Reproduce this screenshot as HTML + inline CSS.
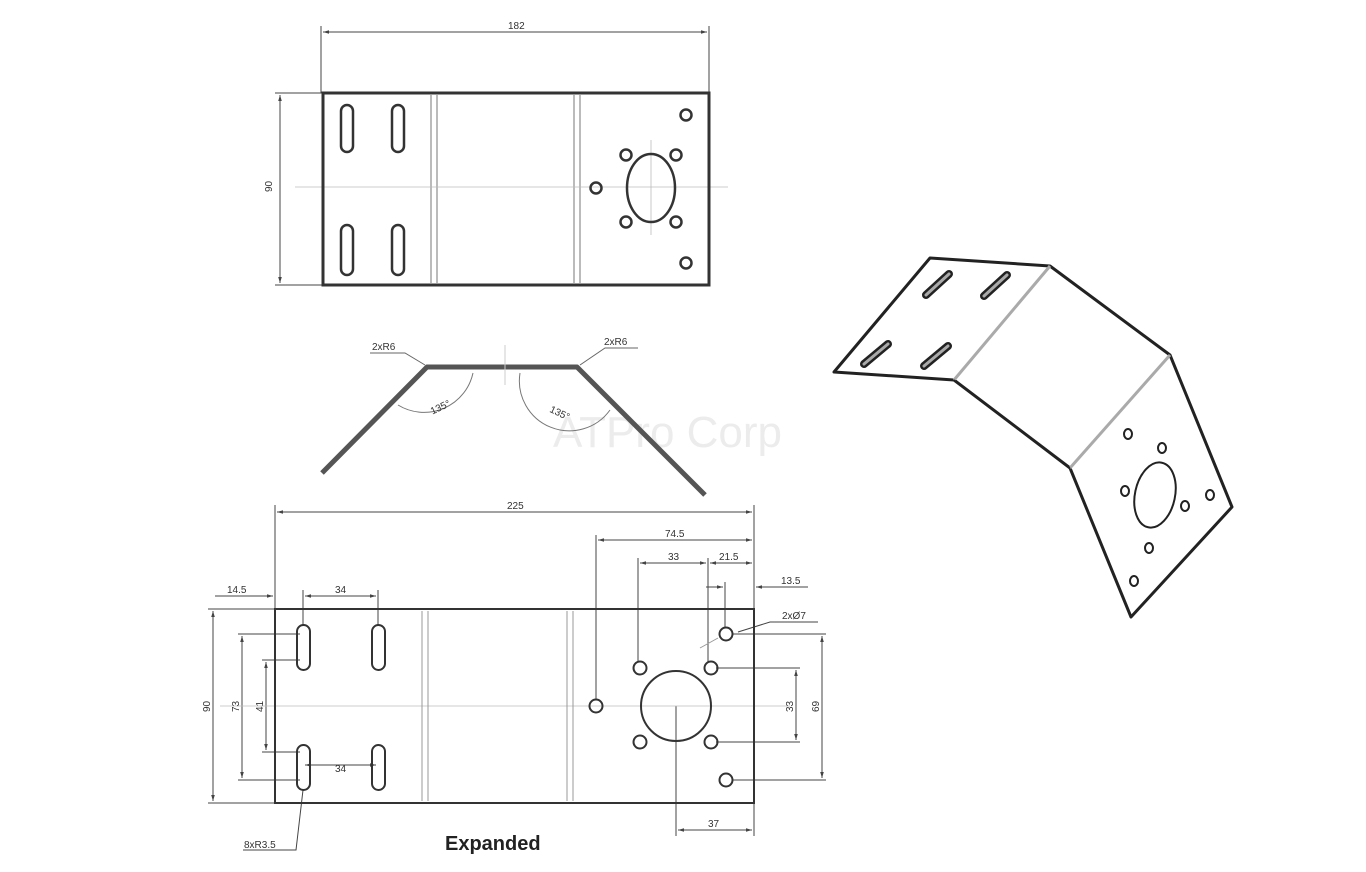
<!DOCTYPE html>
<html><head><meta charset="utf-8"><style>
html,body{margin:0;padding:0;background:#fff;width:1366px;height:872px;overflow:hidden}
svg{display:block}
text{font-family:"Liberation Sans",sans-serif;fill:#333}
</style></head><body>
<svg width="1366" height="872" viewBox="0 0 1366 872" xmlns="http://www.w3.org/2000/svg">
<defs>
<marker id="a" viewBox="0 0 10 10" refX="10" refY="5" markerWidth="6" markerHeight="6" orient="auto-start-reverse"><path d="M0,2 L10,5 L0,8z" fill="#444"/></marker>
</defs>
<text x="553" y="447" font-size="44" style="fill:#ececec">ATPro Corp</text>

<!-- TOP VIEW -->
<g stroke="#444" fill="none">
<line x1="321" y1="26" x2="321" y2="93" stroke-width="1"/>
<line x1="709" y1="26" x2="709" y2="93" stroke-width="1"/>
<line x1="323" y1="32" x2="707" y2="32" stroke-width="1" marker-start="url(#a)" marker-end="url(#a)"/>
<line x1="275" y1="93" x2="323" y2="93" stroke-width="1"/>
<line x1="275" y1="285" x2="323" y2="285" stroke-width="1"/>
<line x1="280" y1="95" x2="280" y2="283" stroke-width="1" marker-start="url(#a)" marker-end="url(#a)"/>
<line x1="295" y1="187" x2="728" y2="187" stroke="#bbb" stroke-width="0.8"/>
<line x1="651" y1="140" x2="651" y2="235" stroke="#bbb" stroke-width="0.8"/>
<rect x="323" y="93" width="386" height="192" stroke="#333" stroke-width="3"/>
<line x1="431" y1="95" x2="431" y2="283" stroke="#bbb" stroke-width="2"/>
<line x1="437" y1="95" x2="437" y2="283" stroke="#bbb" stroke-width="2"/>
<line x1="574" y1="95" x2="574" y2="283" stroke="#bbb" stroke-width="2"/>
<line x1="580" y1="95" x2="580" y2="283" stroke="#bbb" stroke-width="2"/>
<g stroke-width="2.5" stroke="#333">
<rect x="341" y="105" width="12" height="47" rx="6"/>
<rect x="392" y="105" width="12" height="47" rx="6"/>
<rect x="341" y="225" width="12" height="50" rx="6"/>
<rect x="392" y="225" width="12" height="50" rx="6"/>
<circle cx="686" cy="115" r="5.5"/><circle cx="626" cy="155" r="5.5"/><circle cx="676" cy="155" r="5.5"/>
<circle cx="596" cy="188" r="5.5"/><circle cx="626" cy="222" r="5.5"/><circle cx="676" cy="222" r="5.5"/>
<circle cx="686" cy="263" r="5.5"/>
<ellipse cx="651" cy="188" rx="24" ry="34"/>
</g>
</g>
<text x="508" y="29" font-size="10">182</text>
<text x="0" y="0" font-size="10" transform="translate(272,192) rotate(-90)">90</text>

<!-- SIDE VIEW -->
<g fill="none">
<polyline points="322,473 427,367 577,367 705,495" stroke="#555" stroke-width="5" stroke-linejoin="round"/>
<line x1="505" y1="345" x2="505" y2="385" stroke="#ccc"/>
<path d="M398,405 A50,50 0 0 0 473,373" stroke="#777" stroke-width="1"/>
<path d="M520,373 A50,50 0 0 0 610,410" stroke="#777" stroke-width="1"/>
<polyline points="370,353 405,353 425,365" stroke="#666" stroke-width="1"/>
<polyline points="638,348 605,348 580,365" stroke="#666" stroke-width="1"/>
</g>
<text x="372" y="350" font-size="10">2xR6</text>
<text x="604" y="345" font-size="10">2xR6</text>
<text x="430" y="412" font-size="10" transform="rotate(-25 437 408)">135°</text>
<text x="550" y="415" font-size="10" transform="rotate(25 557 411)">135°</text>

<!-- EXPANDED VIEW -->
<g stroke="#444" fill="none" stroke-width="1">
<line x1="275" y1="505" x2="275" y2="609"/>
<line x1="754" y1="505" x2="754" y2="609"/>
<line x1="277" y1="512" x2="752" y2="512" marker-start="url(#a)" marker-end="url(#a)"/>
<line x1="596" y1="535" x2="596" y2="700"/>
<line x1="598" y1="540" x2="752" y2="540" marker-start="url(#a)" marker-end="url(#a)"/>
<line x1="638" y1="558" x2="638" y2="662"/>
<line x1="708" y1="558" x2="708" y2="662"/>
<line x1="640" y1="563" x2="706" y2="563" marker-start="url(#a)" marker-end="url(#a)"/>
<line x1="710" y1="563" x2="752" y2="563" marker-start="url(#a)" marker-end="url(#a)"/>
<line x1="725" y1="582" x2="725" y2="628"/>
<line x1="706" y1="587" x2="723" y2="587" marker-end="url(#a)"/>
<line x1="808" y1="587" x2="756" y2="587" marker-end="url(#a)"/>
<line x1="215" y1="596" x2="273" y2="596" marker-end="url(#a)"/>
<line x1="303" y1="590" x2="303" y2="625"/>
<line x1="378" y1="590" x2="378" y2="625"/>
<line x1="305" y1="596" x2="376" y2="596" marker-start="url(#a)" marker-end="url(#a)"/>
<line x1="208" y1="609" x2="275" y2="609"/>
<line x1="208" y1="803" x2="275" y2="803"/>
<line x1="213" y1="611" x2="213" y2="801" marker-start="url(#a)" marker-end="url(#a)"/>
<line x1="238" y1="634" x2="300" y2="634"/>
<line x1="238" y1="780" x2="300" y2="780"/>
<line x1="242" y1="636" x2="242" y2="778" marker-start="url(#a)" marker-end="url(#a)"/>
<line x1="262" y1="660" x2="300" y2="660"/>
<line x1="262" y1="752" x2="300" y2="752"/>
<line x1="266" y1="662" x2="266" y2="750" marker-start="url(#a)" marker-end="url(#a)"/>
<line x1="305" y1="765" x2="376" y2="765" marker-start="url(#a)" marker-end="url(#a)"/>
<line x1="716" y1="668" x2="800" y2="668"/>
<line x1="716" y1="742" x2="800" y2="742"/>
<line x1="796" y1="670" x2="796" y2="740" marker-start="url(#a)" marker-end="url(#a)"/>
<line x1="732" y1="634" x2="826" y2="634"/>
<line x1="732" y1="780" x2="826" y2="780"/>
<line x1="822" y1="636" x2="822" y2="778" marker-start="url(#a)" marker-end="url(#a)"/>
<line x1="676" y1="706" x2="676" y2="836"/>
<line x1="754" y1="803" x2="754" y2="836"/>
<line x1="678" y1="830" x2="752" y2="830" marker-start="url(#a)" marker-end="url(#a)"/>
<polyline points="243,850 296,850 303,790"/>
<polyline points="818,622 770,622 738,632" />
<line x1="700" y1="648" x2="718" y2="638" stroke="#999"/>
<line x1="220" y1="706" x2="790" y2="706" stroke="#bbb" stroke-width="0.8"/>
<rect x="275" y="609" width="479" height="194" stroke="#333" stroke-width="2"/>
<line x1="422" y1="611" x2="422" y2="801" stroke="#999"/>
<line x1="428" y1="611" x2="428" y2="801" stroke="#999"/>
<line x1="567" y1="611" x2="567" y2="801" stroke="#999"/>
<line x1="573" y1="611" x2="573" y2="801" stroke="#999"/>
<g stroke="#333" stroke-width="2">
<rect x="297" y="625" width="13" height="45" rx="6.5"/>
<rect x="372" y="625" width="13" height="45" rx="6.5"/>
<rect x="297" y="745" width="13" height="45" rx="6.5"/>
<rect x="372" y="745" width="13" height="45" rx="6.5"/>
<circle cx="596" cy="706" r="6.5"/><circle cx="640" cy="668" r="6.5"/><circle cx="711" cy="668" r="6.5"/>
<circle cx="640" cy="742" r="6.5"/><circle cx="711" cy="742" r="6.5"/><circle cx="726" cy="634" r="6.5"/>
<circle cx="726" cy="780" r="6.5"/><circle cx="676" cy="706" r="35"/>
</g>
</g>
<g font-size="10">
<text x="507" y="509">225</text>
<text x="665" y="537">74.5</text>
<text x="668" y="560">33</text>
<text x="719" y="560">21.5</text>
<text x="781" y="584">13.5</text>
<text x="227" y="593">14.5</text>
<text x="335" y="593">34</text>
<text x="335" y="772">34</text>
<text x="782" y="619">2xØ7</text>
<text x="708" y="827">37</text>
<text x="244" y="848">8xR3.5</text>
<text transform="translate(210,712) rotate(-90)">90</text>
<text transform="translate(239,712) rotate(-90)">73</text>
<text transform="translate(263,712) rotate(-90)">41</text>
<text transform="translate(793,712) rotate(-90)">33</text>
<text transform="translate(819,712) rotate(-90)">69</text>
</g>
<text x="445" y="850" font-size="20" font-weight="bold" style="fill:#222">Expanded</text>

<!-- 3D VIEW -->
<g fill="none" stroke="#222">
<polygon points="834,372 930,258 1050,266 1170,355 1232,507 1131,617 1070,468 954,380" stroke-width="3" stroke-linejoin="round"/>
<line x1="954" y1="380" x2="1050" y2="266" stroke="#aaa" stroke-width="3"/>
<line x1="1070" y1="468" x2="1170" y2="355" stroke="#aaa" stroke-width="3"/>
<line x1="954" y1="380" x2="1070" y2="468" stroke-width="1.5"/>
<g stroke-linecap="round">
<g stroke-width="8" stroke="#222">
<line x1="926" y1="295" x2="949" y2="274"/>
<line x1="984" y1="296" x2="1007" y2="275"/>
<line x1="864" y1="364" x2="888" y2="344"/>
<line x1="924" y1="366" x2="948" y2="346"/>
</g>
<g stroke-width="3" stroke="#aaa">
<line x1="926" y1="295" x2="949" y2="274"/>
<line x1="984" y1="296" x2="1007" y2="275"/>
<line x1="864" y1="364" x2="888" y2="344"/>
<line x1="924" y1="366" x2="948" y2="346"/>
</g>
</g>
<g stroke-width="2">
<ellipse cx="1128" cy="434" rx="4" ry="5"/><ellipse cx="1162" cy="448" rx="4" ry="5"/>
<ellipse cx="1125" cy="491" rx="4" ry="5"/><ellipse cx="1185" cy="506" rx="4" ry="5"/>
<ellipse cx="1210" cy="495" rx="4" ry="5"/><ellipse cx="1149" cy="548" rx="4" ry="5"/>
<ellipse cx="1134" cy="581" rx="4" ry="5"/>
<ellipse cx="1155" cy="495" rx="20" ry="33" transform="rotate(12 1155 495)"/>
</g>
</g>
</svg>
</body></html>
